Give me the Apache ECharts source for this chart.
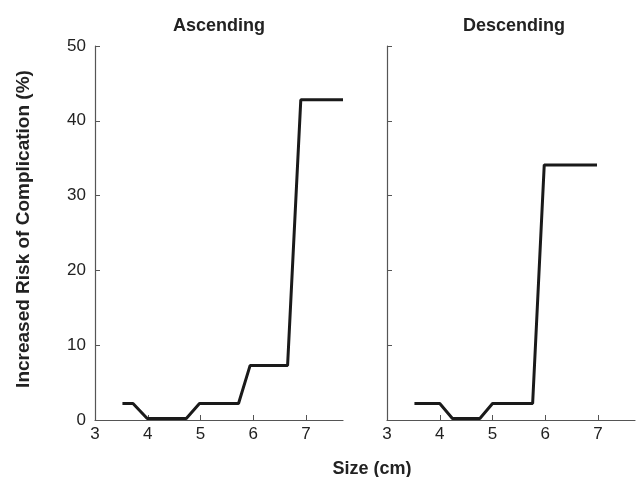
<!DOCTYPE html>
<html><head><meta charset="utf-8">
<script src="https://cdn.jsdelivr.net/npm/echarts@6/dist/echarts.min.js"></script>
<style>html,body{margin:0;padding:0;background:#fff}#c{width:637px;height:477px}</style>
</head><body><div id="c"></div>
<script>
var panelTitles = ["Ascending", "Descending"];
var xTicks = [3, 4, 5, 6, 7];
var yTicks = [0, 10, 20, 30, 40, 50];
var ascX = [3.52, 3.72, 3.99, 4.73, 4.98, 5.72, 5.94, 6.65, 6.9, 7.7];
var ascY = [2.2, 2.2, 0.2, 0.2, 2.2, 2.2, 7.3, 7.3, 42.8, 42.8];
var descX = [3.52, 4.0, 4.24, 4.76, 5.0, 5.76, 5.98, 6.98];
var descY = [2.2, 2.2, 0.2, 0.2, 2.2, 2.2, 34.1, 34.1];

function pairs(xs, ys){ return xs.map(function(x,i){ return [x, ys[i]]; }); }
var font = "Liberation Sans, Arial, sans-serif";
var axisCol = '#555';
function xAx(idx){
  return {type:'value', gridIndex:idx, min:3, max:7.7, interval:1,
    axisLine:{lineStyle:{color:axisCol,width:1.2}},
    axisTick:{inside:true,length:5,customValues:xTicks,lineStyle:{color:axisCol}},
    axisLabel:{customValues:xTicks,color:'#222',fontSize:17,fontFamily:font,margin:6},
    splitLine:{show:false}};
}
function yAx(idx, labels){
  return {type:'value', gridIndex:idx, min:0, max:50, interval:10,
    axisLine:{show:true,lineStyle:{color:axisCol,width:1.2}},
    axisTick:{show:true,inside:true,length:5,lineStyle:{color:axisCol}},
    axisLabel:{show:labels,color:'#222',fontSize:17,fontFamily:font,margin:9},
    splitLine:{show:false}};
}
var chart = echarts.init(document.getElementById('c'));
chart.setOption({
  animation:false,
  title:[
    {text:panelTitles[0], left:214, top:12, textAlign:'center', textStyle:{fontSize:18,fontWeight:'bold',color:'#222',fontFamily:font}},
    {text:panelTitles[1], left:509, top:12, textAlign:'center', textStyle:{fontSize:18,fontWeight:'bold',color:'#222',fontFamily:font}},
    {text:'Size (cm)', left:367, top:455, textAlign:'center', textStyle:{fontSize:18,fontWeight:'bold',color:'#222',fontFamily:font}}
  ],
  graphic:[{type:'text', x:24, y:229, rotation:Math.PI/2,
    style:{text:'Increased Risk of Complication (%)', fill:'#222', font:'bold 19px '+font, textAlign:'center', textVerticalAlign:'middle'}}],
  grid:[
    {left:95, top:46, width:248, height:374},
    {left:387, top:46, width:248, height:374}
  ],
  xAxis:[xAx(0), xAx(1)],
  yAxis:[yAx(0,true), yAx(1,false)],
  series:[
    {type:'line', xAxisIndex:0, yAxisIndex:0, data:pairs(ascX,ascY), showSymbol:false, lineStyle:{color:'#1a1a1a',width:3}},
    {type:'line', xAxisIndex:1, yAxisIndex:1, data:pairs(descX,descY), showSymbol:false, lineStyle:{color:'#1a1a1a',width:3}}
  ]
});
</script></body></html>
